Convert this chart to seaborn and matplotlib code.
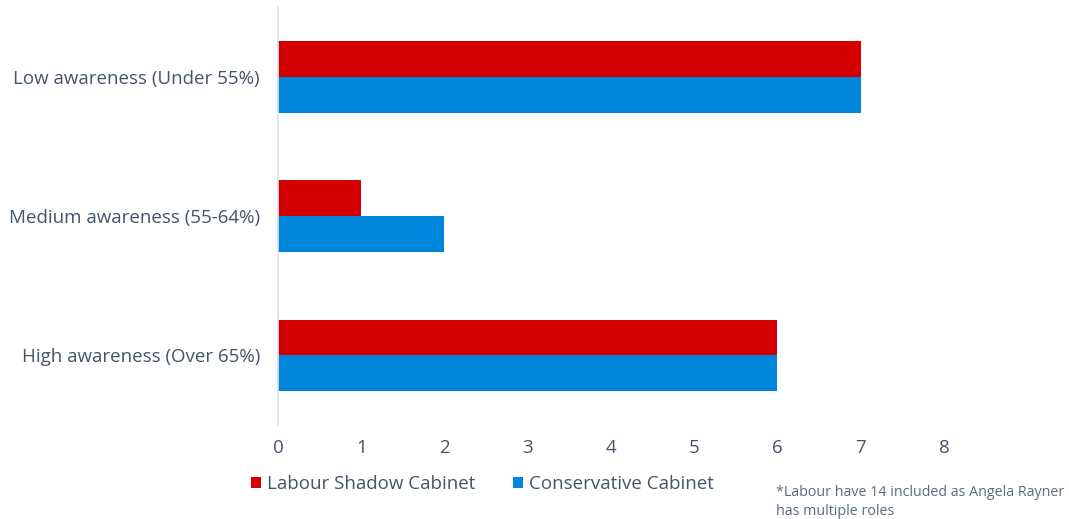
import matplotlib
matplotlib.use("Agg")
import matplotlib.pyplot as plt
import seaborn as sns
import pandas as pd

categories = ["Low awareness (Under 55%)", "Medium awareness (55-64%)", "High awareness (Over 65%)"]
labour = [7, 1, 6]
conservative = [7, 2, 6]
series_names = ["Labour Shadow Cabinet", "Conservative Cabinet"]
x_ticks = [0, 1, 2, 3, 4, 5, 6, 7, 8]
footnote = "*Labour have 14 included as Angela Rayner\nhas multiple roles"

df = pd.DataFrame({
    "category": categories * 2,
    "count": labour + conservative,
    "series": [series_names[0]] * 3 + [series_names[1]] * 3,
})

sns.set_theme(style="white")
plt.rcParams["font.family"] = ["Open Sans", "DejaVu Sans"]
text_color = "#44546A"

fig = plt.figure(figsize=(10.69, 5.19), dpi=100)
ax = fig.add_axes([0.26, 0.181, 0.623, 0.805])

palette = {series_names[0]: "#D40000", series_names[1]: "#0087DC"}
sns.barplot(data=df, x="count", y="category", hue="series", order=categories,
            hue_order=series_names, palette=palette, orient="h",
            width=0.514, saturation=1, linewidth=0, ax=ax, legend=True)

ax.set_xlim(0, 8)
ax.set_ylim(2.5, -0.5)
ax.set_xticks(x_ticks)
ax.set_xticklabels([str(t) for t in x_ticks])
ax.set_xlabel("")
ax.set_ylabel("")
ax.tick_params(axis="x", length=0, pad=10, labelsize=13.5, labelcolor=text_color)
ax.tick_params(axis="y", length=0, pad=13, labelsize=13.5, labelcolor=text_color)
for side in ["top", "right", "bottom"]:
    ax.spines[side].set_visible(False)
ax.spines["left"].set_color("#D9E1F2")
ax.spines["left"].set_linewidth(1.2)

handles, labels = ax.get_legend_handles_labels()
ax.get_legend().remove()
fig.legend(handles, labels, loc="center", bbox_to_anchor=(0.451, 0.067), ncol=2,
           frameon=False, fontsize=13.5, labelcolor=text_color,
           handlelength=0.55, handleheight=0.55, handletextpad=0.3, columnspacing=2.0)

fig.text(0.726, 0.033, footnote, fontsize=10.3, color="#5A6B85", va="center", ha="left",
         linespacing=1.3)

fig.savefig("out.png", dpi=100)
